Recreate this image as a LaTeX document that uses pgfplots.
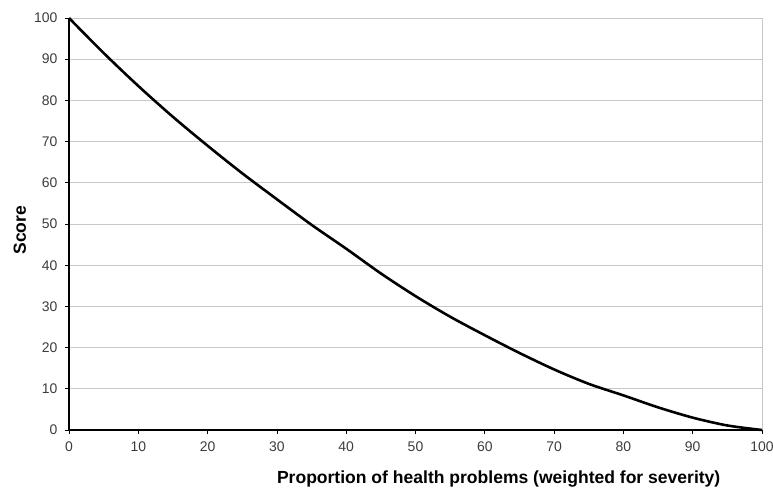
\documentclass[border=0pt]{standalone}
\usepackage{pgfplots}
\pgfplotsset{compat=1.18}
\usepackage{fontspec}
\setmainfont{Liberation Sans}
\definecolor{gridgray}{RGB}{200,200,200}
\definecolor{ticktext}{RGB}{60,60,60}
\begin{document}
\begin{tikzpicture}[x=1bp,y=1bp]
\begin{axis}[
  scale only axis,
  width=693bp, height=412bp,
  xmin=0, xmax=100, ymin=0, ymax=100,
  xtick={0,10,...,100}, ytick={0,10,...,100},
  axis line style={draw=none},
  ymajorgrids, grid style={gridgray, line width=0.8pt},
  tick align=outside, major tick length=4bp,
  tick style={black, line width=0.8pt},
  xtick pos=bottom, ytick pos=left,
  tick label style={font=\fontsize{14}{16}\selectfont, text=ticktext},
  /pgf/number format/assume math mode=true,
  xticklabel style={yshift=-4bp},
  yticklabel style={xshift=-4bp},
  xlabel={\textbf{Proportion of health problems (weighted for severity)}},
  ylabel={\textbf{Score}},
  label style={font=\fontsize{17.6}{20}\selectfont},
  xlabel style={at={(axis description cs:0.62,0)}, anchor=base, yshift=-53bp},
  ylabel style={at={(axis description cs:-0.071,0.485)}, anchor=center},
  clip=false,
]
\draw[gridgray, line width=0.8pt] (rel axis cs:1,0) -- (rel axis cs:1,1);
\draw[black, line width=1.5pt] (rel axis cs:0,1) -- (rel axis cs:0,0) -- (rel axis cs:1,0);
\addplot[black, line width=2.6pt, smooth, tension=0.5] coordinates {
(0,100) (5,91.5) (10,83.5) (15,76) (20,69) (25,62.3) (30,56) (35,49.8)
(40,44) (45,38) (50,32.5) (55,27.5) (60,23) (65,18.7) (70,14.7) (75,11.2)
(80,8.4) (85,5.5) (90,3.0) (95,1.1) (100,0)
};
\coordinate (ll) at (rel axis cs:0,0);
\coordinate (ur) at (rel axis cs:1,1);
\end{axis}
\pgfresetboundingbox
\path[use as bounding box] ([shift={(-69bp,-60bp)}]ll) rectangle ([shift={(11bp,18bp)}]ur);
\end{tikzpicture}
\end{document}
